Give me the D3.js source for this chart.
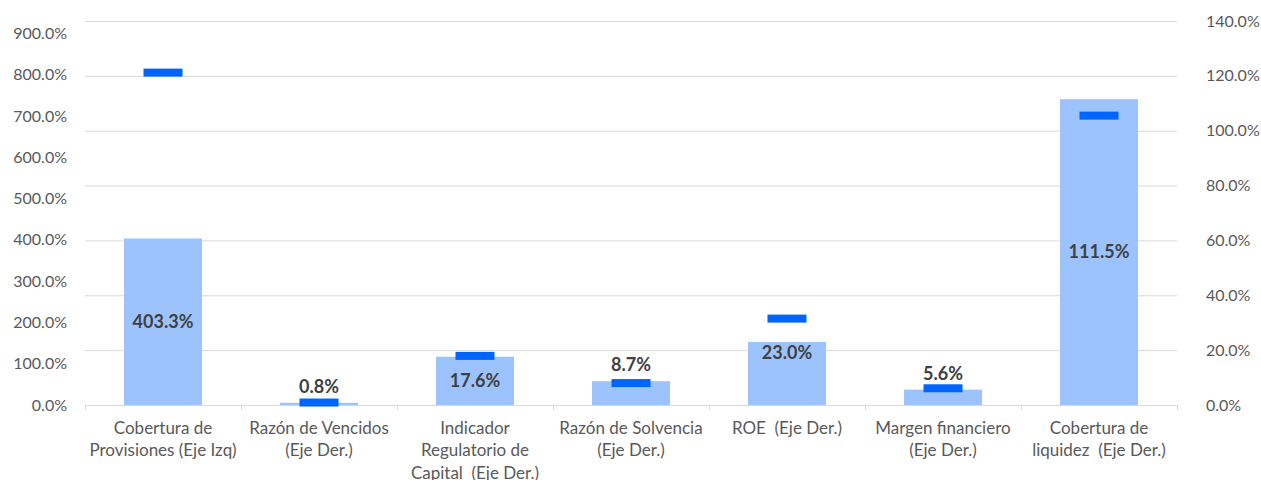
<!DOCTYPE html>
<html><head><meta charset="utf-8">
<script src="https://cdn.jsdelivr.net/npm/d3@7"></script>
<style>body{margin:0;background:#fff}svg{display:block}text{white-space:pre}</style>
</head><body>
<svg id="chart" width="1261" height="480"></svg>
<script>
const categories = [
  ["Cobertura de","Provisiones (Eje Izq)"],
  ["Razón de Vencidos","(Eje Der.)"],
  ["Indicador","Regulatorio de","Capital  (Eje Der.)"],
  ["Razón de Solvencia","(Eje Der.)"],
  ["ROE  (Eje Der.)"],
  ["Margen financiero","(Eje Der.)"],
  ["Cobertura de","liquidez  (Eje Der.)"]
];
const axisSide = ["left","right","right","right","right","right","right"];
const barValues = [403.3, 0.8, 17.6, 8.7, 23.0, 5.6, 111.5];
const markerValues = [805, 0.9, 17.9, 8.0, 31.5, 6.1, 105.5];
const labelPlacement = ["center","outside","center","outside","insideEnd","outside","center"];
const leftTicks = [0,100,200,300,400,500,600,700,800,900];
const rightTicks = [0,20,40,60,80,100,120,140];

const svg = d3.select("#chart");
const m = {left:85, right:1177, top:21, bottom:405};
const x = d3.scaleBand().domain(d3.range(categories.length)).range([m.left,m.right]).paddingInner(0.5).paddingOuter(0.25);
const xb = d3.scaleBand().domain(d3.range(categories.length)).range([m.left,m.right]);
const yL = d3.scaleLinear().domain([0,930]).range([m.bottom,m.top]);
const yR = d3.scaleLinear().domain([0,140]).range([m.bottom,m.top]);
const font = "Lato, 'Open Sans', sans-serif";
const ys = i => axisSide[i]==="left" ? yL : yR;

// gridlines (right axis)
svg.append("g").selectAll("line").data(rightTicks.slice(1)).join("line")
  .attr("x1",m.left).attr("x2",m.right)
  .attr("y1",d=>yR(d)+0.5).attr("y2",d=>yR(d)+0.5)
  .attr("stroke","#d9d9d9").attr("stroke-width",1);

// left axis
const gl = svg.append("g").attr("transform",`translate(${m.left-18},0)`)
  .call(d3.axisLeft(yL).tickValues(leftTicks).tickFormat(d=>d.toFixed(1)+"%").tickSize(0).tickPadding(0));
gl.select(".domain").remove();
gl.selectAll("text").attr("font-family",font).attr("font-size",16).attr("fill","#595959");

// right axis
const gr = svg.append("g").attr("transform",`translate(${m.right+29},0)`)
  .call(d3.axisRight(yR).tickValues(rightTicks).tickFormat(d=>d.toFixed(1)+"%").tickSize(0).tickPadding(0));
gr.select(".domain").remove();
gr.selectAll("text").attr("font-family",font).attr("font-size",16).attr("fill","#595959");

// bars
svg.append("g").selectAll("rect").data(barValues).join("rect")
  .attr("x",(d,i)=>x(i)).attr("width",x.bandwidth())
  .attr("y",(d,i)=>ys(i)(d)).attr("height",(d,i)=>m.bottom-ys(i)(d))
  .attr("fill","#9dc3ff");

// x axis baseline + ticks
svg.append("line").attr("x1",m.left).attr("x2",m.right).attr("y1",m.bottom+0.5).attr("y2",m.bottom+0.5)
  .attr("stroke","#d9d9d9");
svg.append("g").selectAll("line").data(d3.range(categories.length+1)).join("line")
  .attr("x1",i=>Math.round(m.left+i*xb.bandwidth())+0.5).attr("x2",i=>Math.round(m.left+i*xb.bandwidth())+0.5)
  .attr("y1",m.bottom).attr("y2",m.bottom+5).attr("stroke","#d9d9d9");

// markers
const mw = 39, mh = 8;
svg.append("g").selectAll("rect").data(markerValues).join("rect")
  .attr("x",(d,i)=>x(i)+x.bandwidth()/2-mw/2).attr("width",mw)
  .attr("y",(d,i)=>ys(i)(d)-mh/2).attr("height",mh)
  .attr("fill","#0064ff");

// bar labels
svg.append("g").selectAll("text").data(barValues).join("text")
  .attr("x",(d,i)=>x(i)+x.bandwidth()/2)
  .attr("y",(d,i)=>{
    const top = ys(i)(d), p = labelPlacement[i];
    if(p==="center") return (top+m.bottom)/2;
    if(p==="insideEnd") return top+11;
    return top-16;
  })
  .attr("dy","0.35em").attr("text-anchor","middle")
  .attr("font-family",font).attr("font-size",18).attr("font-weight","bold").attr("fill","#404040")
  .text(d=>d.toFixed(1)+"%");

// category labels
const cl = svg.append("g").selectAll("text").data(categories).join("text")
  .attr("text-anchor","middle").attr("font-family",font).attr("font-size",17).attr("fill","#595959");
cl.each(function(lines,i){
  d3.select(this).selectAll("tspan").data(lines).join("tspan")
    .attr("x",x(i)+x.bandwidth()/2).attr("y",(l,j)=>428+j*22.5).attr("dy","0.35em").text(l=>l);
});
</script>
</body></html>
